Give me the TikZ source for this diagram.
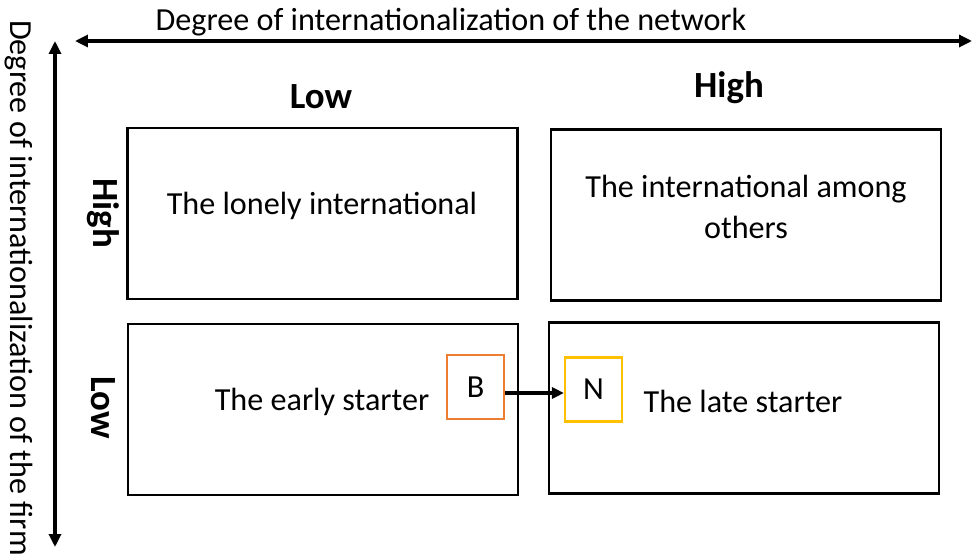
\documentclass[tikz,border=0pt]{standalone}
\usepackage{fontspec}
\setmainfont{Carlito}
\usetikzlibrary{arrows.meta, positioning}
\definecolor{borange}{RGB}{237,125,49}
\definecolor{nyellow}{RGB}{255,192,0}

\begin{document}
\begin{tikzpicture}[
      x=0.02cm, y=-0.02cm,
      cellbox/.style={
         rectangle,
         draw=black,
         line width=1.2pt,
         inner sep=0pt,
         minimum width=7.8cm,
         minimum height=3.42cm},
      tagbox/.style={
         rectangle,
         line width=1.2pt,
         inner sep=0pt,
         minimum width=1.14cm,
         minimum height=1.28cm,
         font=\fontsize{18.3}{22}\selectfont},
      headlbl/.style={font=\bfseries\fontsize{21}{25}\selectfont},
      axislbl/.style={font=\fontsize{18.3}{22}\selectfont},
      axisarrow/.style={line width=1.8pt, {Triangle[length=0.26cm,width=0.24cm]}-{Triangle[length=0.26cm,width=0.24cm]}},
      myarrow/.style={line width=1.8pt, -{Triangle[length=0.24cm,width=0.22cm]}}
      ]
      \useasboundingbox (0,0) rectangle (972,557);

      % axes
      \coordinate (xl) at (75,41);
      \coordinate (xr) at (972,41);
      \coordinate (yt) at (55,41);
      \coordinate (yb) at (55,547);
      \draw [axisarrow] (xl) -- (xr);
      \draw [axisarrow] (yt) -- (yb);
      \node[axislbl] (xlbl) at (451,22) {Degree of internationalization of the network};
      \node[axislbl, rotate=-90] (ylbl) at (19,288) {Degree of internationalization of the firm};

      % column and row heads
      \node[headlbl] (lowc) at (321,97) {Low};
      \node[headlbl] (highc) at (729,88) {High};
      \node[headlbl, rotate=-90] (highr) at (103,213) {High};
      \node[headlbl, rotate=-90] (lowr) at (103,408) {Low};

      % the four cells
      \node[cellbox] (c1) at (322.5,213.5) {};
      \node[cellbox] (c2) at (746,215) {};
      \node[cellbox] (c3) at (323,409.5) {};
      \node[cellbox] (c4) at (744,408) {};

      \node[axislbl] (t1) at (322,206) {The lonely international};
      \node[axislbl, align=center] (t2) at (746,207) {The international among\\[1pt]others};
      \node[axislbl] (t3) at (322,402) {The early starter};
      \node[axislbl] (t4) at (743,401) {The late starter};

      % movement from B to N
      \node[tagbox, draw=borange] (b) at (475.5,387) {B};
      \node[tagbox, draw=nyellow] (n) at (593.5,389.5) {N};
      \draw [myarrow] (b.east |- 0,393) -- (n.west |- 0,393);
    \end{tikzpicture}
\end{document}
